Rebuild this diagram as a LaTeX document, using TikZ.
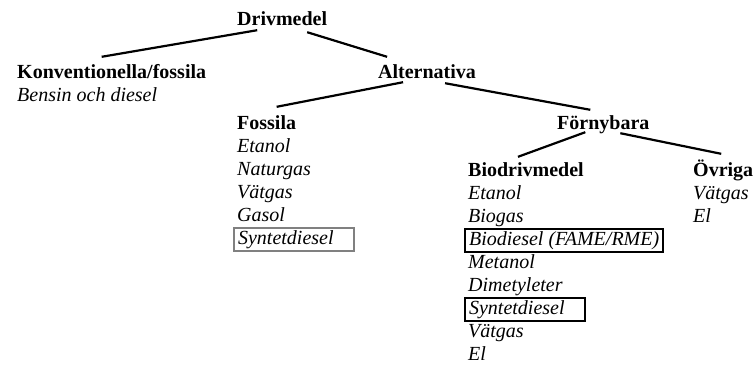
\documentclass[tikz,border=0pt]{standalone}
\usepackage{fontspec}
\setmainfont{Liberation Serif}
\usepackage{tikz}
\definecolor{boxgray}{gray}{0.5}
\tikzstyle{head} = [font=\fontsize{20}{23}\selectfont\bfseries, anchor=base west,
    inner sep=2pt, text height=14pt, text depth=5pt]
\tikzstyle{item} = [font=\fontsize{20}{23}\selectfont\itshape, anchor=base west,
    inner sep=2pt, text height=14pt, text depth=5pt]
\tikzstyle{pick} = [draw, line width=2.2pt, inner xsep=4pt, inner ysep=2pt]
\tikzstyle{line} = [draw, line width=2.2pt]

\begin{document}
\begin{tikzpicture}[x=1pt, y=-1pt]
                \useasboundingbox (0,0) rectangle (755,378);
                % rubriker
                \node [head] at (235,25) (drivmedel) {Drivmedel};
                \node [head] at (15,78) (konv) {Konventionella/fossila};
                \node [item] at (15,101) (bensin) {Bensin och diesel};
                \node [head] at (376,78) (alt) {Alternativa};
                \node [head] at (235,129) (fossila) {Fossila};
                \node [head] at (555,129) (fornybara) {Förnybara};
                \node [head] at (466,176) (bio) {Biodrivmedel};
                \node [head] at (691,176) (ovriga) {Övriga};
                % listor
                \foreach \i/\name in {1/Etanol, 2/Naturgas, 3/Vätgas, 4/Gasol}
                    \node [item] at (235,129+23*\i) (fos\i) {\name};
                \node [item, pick, draw=boxgray, text width=112pt] at (233,244) (fos5) {Syntetdiesel};
                \foreach \i/\name in {1/Etanol, 2/Biogas, 4/Metanol, 5/Dimetyleter, 7/Vätgas, 8/El}
                    \node [item] at (466,176+23*\i) (bio\i) {\name};
                \node [item, pick] at (464,245) (bio3) {Biodiesel (FAME/RME)};
                \node [item, pick, text width=112pt] at (464,314) (bio6) {Syntetdiesel};
                \node [item] at (691,199) (ovr1) {Vätgas};
                \node [item] at (691,222) (ovr2) {El};
                % grenar
                \path [line] ([xshift=-25pt,yshift=2pt]drivmedel.south) -- ([xshift=-10pt,yshift=5pt]konv.north);
                \path [line] ([xshift=25pt]drivmedel.south) -- ([xshift=-40pt,yshift=5pt]alt.north);
                \path [line] ([xshift=-24pt,yshift=3pt]alt.south) -- ([xshift=10pt,yshift=6pt]fossila.north);
                \path [line] ([xshift=18pt,yshift=2pt]alt.south) -- ([xshift=-13pt,yshift=3pt]fornybara.north);
                \path [line] ([xshift=-18pt,yshift=4pt]fornybara.south) -- ([xshift=-8pt,yshift=3pt]bio.north);
                \path [line] ([xshift=17pt,yshift=3pt]fornybara.south) -- ([xshift=-2pt,yshift=6pt]ovriga.north);
            \end{tikzpicture}
\end{document}
